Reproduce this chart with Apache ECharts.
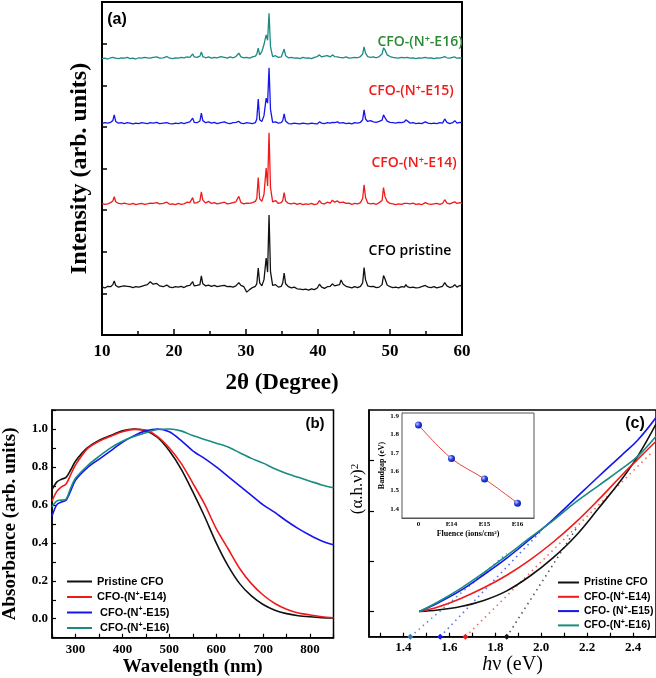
<!DOCTYPE html>
<html>
<head>
<meta charset="utf-8">
<script src="https://cdn.jsdelivr.net/npm/echarts@6/dist/echarts.min.js"></script>
<style>
  html, body { margin: 0; padding: 0; background: #fff; }
  #chart { width: 656px; height: 678px; }
</style>
</head>
<body>
<div id="chart"></div>
<script>
// ---- (a) XRD, 2theta grid shared by the four patterns ----
const twoTheta = [
  10, 10.4, 10.8, 11.2, 11.5, 11.7, 11.9, 12.3, 12.7, 13.1,
  13.5, 13.7, 13.9, 14.3, 14.7, 15.1, 15.5, 15.9, 16.3, 16.7,
  17.1, 17.6, 18.0, 18.5, 19.0, 19.4, 19.8, 20.2, 20.6, 21.0,
  21.4, 21.8, 22.2, 22.4, 22.6, 22.8, 23.2, 23.6, 23.8, 24.0,
  24.4, 24.8, 25.2, 25.6, 26.0, 26.5, 27.0, 27.4, 27.8, 28.2,
  28.6, 29.0, 29.3, 29.7, 30.1, 30.5, 30.9, 31.3, 31.5, 31.7,
  31.9, 32.2, 32.5, 32.8, 33.0, 33.2, 33.4, 33.7, 34.1, 34.5,
  34.9, 35.1, 35.3, 35.5, 35.9, 36.3, 36.7, 37.1, 37.5, 37.9,
  38.3, 38.7, 39.1, 39.5, 39.9, 40.2, 40.5, 40.9, 41.3, 41.7,
  42.0, 42.3, 42.7, 43.0, 43.2, 43.5, 43.9, 44.3, 44.7, 45.1,
  45.5, 45.9, 46.2, 46.4, 46.6, 46.9, 47.3, 47.7, 48.1, 48.5,
  48.9, 49.1, 49.3, 49.6, 50.0, 50.4, 50.8, 51.2, 51.6, 52.0,
  52.2, 52.4, 52.8, 53.2, 53.6, 54.0, 54.4, 54.9, 55.3, 55.7,
  56.1, 56.5, 56.9, 57.3, 57.6, 57.9, 58.3, 58.7, 59.0, 59.3,
  59.7, 60.0
]
// intensities above each pattern's own baseline
const xrdPristine = [
  0.02, 0.00, 0.04, 0.03, 0.08, 0.17, 0.06, 0.02, 0.04, 0.05,
  0.04, 0.07, 0.03, 0.01, 0.03, 0.02, 0.04, 0.06, 0.08, 0.15,
  0.09, 0.11, 0.05, 0.03, 0.07, 0.02, 0.01, 0.03, 0.02, 0.04,
  0.01, 0.05, 0.06, 0.04, 0.15, 0.05, 0.06, 0.08, 0.29, 0.10,
  0.05, 0.07, 0.04, 0.06, 0.03, 0.05, 0.06, 0.03, 0.04, 0.02,
  0.05, 0.13, 0.06, 0.03, -0.10, -0.04, 0.01, 0.04, 0.10, 0.48,
  0.12, 0.05, 0.20, 0.72, 0.38, 1.75, 0.40, 0.06, 0.08, 0.02,
  0.04, 0.12, 0.36, 0.10, 0.03, 0.00, 0.02, -0.02, -0.03, -0.04,
  -0.03, -0.05, -0.02, -0.04, 0.00, 0.09, 0.02, -0.01, 0.03, 0.04,
  0.10, 0.05, 0.07, 0.08, 0.19, 0.09, 0.04, 0.02, 0.00, 0.03,
  0.01, 0.04, 0.12, 0.49, 0.20, 0.05, 0.03, 0.04, 0.01, 0.02,
  0.08, 0.30, 0.22, 0.07, 0.03, 0.01, 0.02, 0.00, 0.03, 0.02,
  0.08, 0.03, 0.01, 0.02, 0.00, 0.01, 0.03, 0.06, 0.02, 0.01,
  0.03, 0.00, 0.02, 0.04, 0.13, 0.05, 0.01, 0.03, 0.08, 0.02,
  0.06, 0.04
]
const xrdE14 = [
  0.03, 0.01, 0.02, 0.05, 0.09, 0.19, 0.07, 0.03, 0.02, 0.04,
  0.02, 0.04, 0.01, 0.03, 0.00, 0.02, 0.03, 0.01, 0.02, 0.04,
  0.03, 0.05, 0.02, 0.03, 0.06, 0.01, 0.02, 0.00, 0.03, 0.01,
  0.02, 0.06, 0.05, 0.07, 0.17, 0.04, 0.05, 0.09, 0.31, 0.11,
  0.04, 0.08, 0.03, 0.05, 0.02, 0.04, 0.06, 0.02, 0.03, 0.05,
  0.07, 0.20, 0.05, 0.02, 0.04, 0.03, 0.05, 0.08, 0.15, 0.65,
  0.14, 0.08, 0.25, 0.88, 0.45, 1.73, 0.42, 0.07, 0.10, 0.03,
  0.05, 0.10, 0.29, 0.09, 0.03, 0.02, 0.04, 0.01, 0.03, 0.00,
  0.02, 0.01, 0.03, 0.00, 0.02, 0.10, 0.03, 0.02, 0.06, 0.04,
  0.11, 0.06, 0.09, 0.05, 0.08, 0.06, 0.03, 0.04, 0.01, 0.03,
  0.02, 0.05, 0.15, 0.48, 0.18, 0.04, 0.02, 0.03, 0.01, 0.05,
  0.10, 0.41, 0.20, 0.08, 0.03, 0.02, 0.00, 0.02, 0.01, 0.03,
  0.07, 0.03, 0.02, 0.04, 0.01, 0.02, 0.00, 0.05, 0.02, 0.01,
  0.02, 0.03, 0.01, 0.03, 0.12, 0.04, 0.02, 0.05, 0.07, 0.03,
  0.05, 0.04
]
const xrdE15 = [
  0.01, 0.03, 0.02, 0.04, 0.08, 0.22, 0.06, 0.02, 0.03, 0.01,
  0.03, 0.05, 0.02, 0.00, 0.02, 0.01, 0.03, 0.02, 0.01, 0.03,
  0.02, 0.04, 0.01, 0.02, 0.03, 0.01, 0.00, 0.02, 0.01, 0.03,
  0.01, 0.03, 0.05, 0.04, 0.14, 0.04, 0.03, 0.07, 0.26, 0.08,
  0.03, 0.05, 0.02, 0.04, 0.01, 0.03, 0.05, 0.02, 0.01, 0.03,
  0.04, 0.06, 0.02, 0.01, 0.03, 0.02, 0.01, 0.03, 0.12, 0.60,
  0.10, 0.06, 0.20, 0.62, 0.50, 1.35, 0.35, 0.04, 0.05, 0.02,
  0.03, 0.08, 0.24, 0.07, 0.01, 0.00, 0.02, 0.01, 0.00, 0.02,
  0.01, 0.00, 0.02, 0.01, 0.00, 0.05, 0.02, 0.01, 0.03, 0.02,
  0.04, 0.03, 0.05, 0.02, 0.05, 0.03, 0.01, 0.02, 0.00, 0.03,
  0.02, 0.04, 0.10, 0.34, 0.12, 0.06, 0.08, 0.05, 0.04, 0.06,
  0.09, 0.22, 0.15, 0.07, 0.04, 0.03, 0.02, 0.04, 0.03, 0.05,
  0.10, 0.06, 0.02, 0.03, 0.01, 0.02, 0.01, 0.05, 0.02, 0.01,
  0.02, 0.01, 0.03, 0.02, 0.12, 0.04, 0.01, 0.03, 0.08, 0.02,
  0.04, 0.03
]
const xrdE16 = [
  0.01, 0.02, 0.00, 0.03, 0.04, 0.06, 0.02, 0.01, 0.03, 0.02,
  0.04, 0.03, 0.01, 0.02, 0.00, 0.03, 0.02, 0.04, 0.03, 0.02,
  0.04, 0.05, 0.02, 0.03, 0.06, 0.02, 0.01, 0.03, 0.02, 0.04,
  0.03, 0.05, 0.04, 0.06, 0.12, 0.05, 0.04, 0.07, 0.17, 0.06,
  0.03, 0.05, 0.02, 0.04, 0.03, 0.06, 0.04, 0.02, 0.05, 0.03,
  0.06, 0.14, 0.05, 0.03, 0.04, 0.02, 0.05, 0.07, 0.12, 0.26,
  0.10, 0.18, 0.35, 0.58, 0.45, 1.10, 0.30, 0.06, 0.08, 0.04,
  0.05, 0.09, 0.24, 0.08, 0.03, 0.04, 0.02, 0.03, 0.01, 0.04,
  0.02, 0.03, 0.01, 0.04, 0.06, 0.10, 0.05, 0.07, 0.08, 0.05,
  0.10, 0.06, 0.05, 0.04, 0.06, 0.03, 0.05, 0.02, 0.03, 0.04,
  0.03, 0.06, 0.12, 0.29, 0.14, 0.06, 0.04, 0.05, 0.03, 0.06,
  0.12, 0.27, 0.22, 0.10, 0.06, 0.04, 0.03, 0.02, 0.04, 0.03,
  0.06, 0.04, 0.02, 0.03, 0.01, 0.03, 0.02, 0.04, 0.02, 0.03,
  0.01, 0.03, 0.02, 0.04, 0.06, 0.03, 0.02, 0.04, 0.05, 0.02,
  0.03, 0.02
]
// vertical stacking of the patterns (pristine, E14, E15, E16)
const xrdOffsets = [1.13, 3.13, 5.07, 6.63]

// ---- (b) normalised absorbance ----
const wavelength = [250, 260, 270, 280, 290, 300, 325, 350, 375, 400, 425, 450, 475, 500,
  525, 550, 575, 600, 625, 650, 675, 700, 725, 750, 775, 800, 825, 850]
const absPristine = [0.68, 0.72, 0.735, 0.745, 0.785, 0.83, 0.90, 0.94, 0.965, 0.99, 1.0, 0.99, 0.955, 0.885,
  0.79, 0.67, 0.54, 0.40, 0.28, 0.185, 0.12, 0.075, 0.045, 0.027, 0.016, 0.01, 0.006, 0.004]
const absE14 = [0.62, 0.67, 0.695, 0.71, 0.76, 0.81, 0.895, 0.935, 0.962, 0.985, 0.998, 0.995, 0.96, 0.90,
  0.82, 0.715, 0.605, 0.475, 0.37, 0.265, 0.185, 0.125, 0.08, 0.05, 0.03, 0.02, 0.01, 0.005]
const absE15 = [0.54, 0.60, 0.615, 0.625, 0.675, 0.73, 0.795, 0.84, 0.885, 0.93, 0.965, 0.99, 1.0, 0.985,
  0.94, 0.885, 0.845, 0.80, 0.75, 0.70, 0.65, 0.60, 0.56, 0.515, 0.475, 0.44, 0.41, 0.39]
const absE16 = [0.59, 0.62, 0.625, 0.63, 0.69, 0.74, 0.805, 0.855, 0.90, 0.935, 0.96, 0.98, 0.997, 1.0,
  0.99, 0.965, 0.945, 0.925, 0.905, 0.875, 0.845, 0.82, 0.79, 0.765, 0.745, 0.725, 0.705, 0.69]

// ---- (c) Tauc plot ----
const photonEnergy = [1.469, 1.55, 1.65, 1.75, 1.85, 1.95, 2.05, 2.15, 2.25, 2.35, 2.42, 2.5]
const taucPristine = [0, 0.03, 0.10, 0.22, 0.41, 0.70, 1.06, 1.50, 2.05, 2.62, 3.08, 3.72]
const taucE14 = [0, 0.09, 0.26, 0.47, 0.72, 1.02, 1.37, 1.77, 2.22, 2.70, 3.02, 3.38]
const taucE15 = [0, 0.17, 0.42, 0.73, 1.06, 1.43, 1.82, 2.25, 2.68, 3.10, 3.40, 3.85]
const taucE16 = [0, 0.19, 0.46, 0.77, 1.11, 1.46, 1.80, 2.17, 2.50, 2.83, 3.08, 3.48]
// linear fits: x-intercept (band gap) and upper end of the dotted line
const fitIntercepts = [1.85, 1.67, 1.56, 1.43]
const fitEnds = [[2.16, 1.7], [2.48, 3.15], [2.0, 1.6], [1.85, 1.15]]

// ---- (c) inset ----
const fluenceLabels = ['0', 'E14', 'E15', 'E16']
const bandgap = [1.85, 1.67, 1.56, 1.43]

const colors = ['#111111', '#f01a1a', '#1515f0', '#1b8a82']
const fitColors = ['#555555', '#f06a6a', '#5a6af0', '#5a92c4']
const legendB = ['Pristine CFO', 'CFO-(N{s|+}-E14)', ' CFO-(N{s|+}-E15)', ' CFO-(N{s|+}-E16)']
const legendC = ['Pristine CFO', 'CFO-(N{s|+}-E14)', 'CFO- (N{s|+}-E15)', 'CFO-(N{s|+}-E16)']

const serif = 'Liberation Serif'
const sans = 'Liberation Sans'
const pairs = (xs, ys, off) => xs.map((x, i) => [x, ys[i] + (off || 0)])

let chart = echarts.init(document.getElementById('chart'), null, { renderer: 'canvas' })

const bold = (size) => ({ fontFamily: serif, fontWeight: 'bold', fontSize: size, color: '#000' })
const blackLine = (w) => ({ show: true, onZero: false, lineStyle: { color: '#000', width: w } })
const supStyle = (size) => ({ fontFamily: sans, fontWeight: 'bold', fontSize: size, verticalAlign: 'top', color: '#000' })

let series = []
const xrdSets = [xrdPristine, xrdE14, xrdE15, xrdE16]
xrdSets.forEach((s, i) => {
  series.push({
    type: 'line', xAxisIndex: 0, yAxisIndex: 0, name: 'a' + i,
    data: pairs(twoTheta, s, xrdOffsets[i]),
    showSymbol: false, lineStyle: { color: colors[i], width: 1.3 }, itemStyle: { color: colors[i] }
  })
})
const absSets = [absPristine, absE14, absE15, absE16]
absSets.forEach((s, i) => {
  series.push({
    type: 'line', xAxisIndex: 1, yAxisIndex: 1, name: 'b' + i,
    data: pairs(wavelength, s), smooth: 0.3,
    showSymbol: false, lineStyle: { color: colors[i], width: 1.6 }, itemStyle: { color: colors[i] }
  })
})
const taucSets = [taucPristine, taucE14, taucE15, taucE16]
taucSets.forEach((s, i) => {
  series.push({
    type: 'line', xAxisIndex: 2, yAxisIndex: 2, name: 'c' + i,
    data: pairs(photonEnergy, s), smooth: 0.4,
    showSymbol: false, lineStyle: { color: colors[i], width: 1.6 }, itemStyle: { color: colors[i] }
  })
})
// dotted extrapolations with a marker at the intercept
fitIntercepts.forEach((x0, i) => {
  series.push({
    type: 'line', xAxisIndex: 2, yAxisIndex: 2, name: 'fit' + i,
    data: [
      { value: [x0, -0.5], symbol: 'diamond', symbolSize: 6 },
      { value: fitEnds[i], symbol: 'none' }
    ],
    symbol: 'none', clip: false,
    lineStyle: { color: fitColors[i], width: 1.6, type: [1.5, 4] },
    itemStyle: { color: i === 3 ? '#3a7ab4' : colors[i] },
    z: 1
  })
})
// inset
series.push({
  type: 'line', xAxisIndex: 3, yAxisIndex: 3, name: 'inset',
  data: bandgap.map((v, i) => [i, v]), smooth: 0.35,
  symbol: 'circle', symbolSize: 7,
  lineStyle: { color: '#e8453c', width: 1 },
  itemStyle: {
    color: new echarts.graphic.RadialGradient(0.35, 0.35, 0.75, [
      { offset: 0, color: '#c8d4ff' },
      { offset: 0.45, color: '#2a44e6' },
      { offset: 1, color: '#0a1590' }
    ])
  },
  z: 5
})

let option = {
  backgroundColor: '#fff',
  animation: false,
  grid: [
    { left: 102, top: 2, width: 360, height: 333, show: true, borderColor: '#000', borderWidth: 2 },
    { left: 51, top: 410, width: 282.5, height: 227.7, show: true, borderColor: '#000', borderWidth: 1.5 },
    { left: 369, top: 410, width: 290.6, height: 226.7, show: true, borderColor: '#000', borderWidth: 1.5 },
    { left: 402, top: 413, width: 132, height: 105, show: true, backgroundColor: '#fff', borderColor: '#555', borderWidth: 1, z: 3 }
  ],
  xAxis: [
    {
      gridIndex: 0, type: 'value', min: 10, max: 60, interval: 10,
      axisLine: blackLine(2),
      axisTick: { inside: true, length: 6, lineStyle: { color: '#000', width: 1.5 } },
      minorTick: { show: true, splitNumber: 2, length: 4, lineStyle: { color: '#000', width: 1.5 } },
      splitLine: { show: false },
      axisLabel: { margin: 8, ...bold(17) },
      name: '2θ (Degree)', nameLocation: 'middle', nameGap: 37, nameTextStyle: bold(23)
    },
    {
      gridIndex: 1, type: 'value', min: 250, max: 850, interval: 50,
      axisLine: blackLine(1.5),
      axisTick: { inside: true, length: 4, lineStyle: { color: '#000', width: 1.2 } },
      splitLine: { show: false },
      axisLabel: {
        margin: 5, ...bold(13),
        formatter: (v) => (v % 100 === 0 && v > 250 && v < 850) ? String(v) : ''
      },
      name: 'Wavelength (nm)', nameLocation: 'middle', nameGap: 20, nameTextStyle: bold(19)
    },
    {
      gridIndex: 2, type: 'value', min: 1.25, max: 2.5,
      axisLine: blackLine(1.5),
      axisTick: { inside: true, length: 4, lineStyle: { color: '#000', width: 1.2 },
        customValues: [1.3, 1.4, 1.5, 1.6, 1.7, 1.8, 1.9, 2.0, 2.1, 2.2, 2.3, 2.4] },
      splitLine: { show: false },
      axisLabel: { margin: 4, ...bold(13), customValues: [1.4, 1.6, 1.8, 2.0, 2.2, 2.4],
        formatter: (v) => v.toFixed(1) },
      name: '{i|h}ν (eV)', nameLocation: 'middle', nameGap: 8,
      nameTextStyle: { fontFamily: serif, fontSize: 20, color: '#000',
        rich: { i: { fontFamily: serif, fontSize: 20, fontStyle: 'italic', color: '#000' } } }
    },
    {
      gridIndex: 3, type: 'value', min: -0.5, max: 3.5,
      axisLine: { show: true, onZero: false, lineStyle: { color: '#555', width: 1 } },
      axisTick: { inside: true, length: 2, lineStyle: { color: '#555' }, customValues: [0, 1, 2, 3] },
      splitLine: { show: false },
      axisLabel: { margin: 3, ...bold(7), customValues: [0, 1, 2, 3],
        formatter: (v) => fluenceLabels[Math.round(v)] },
      name: 'Fluence (ions/cm{s|2})', nameLocation: 'middle', nameGap: 12,
      nameTextStyle: { ...bold(8), rich: { s: { fontFamily: serif, fontWeight: 'bold', fontSize: 5, verticalAlign: 'top', color: '#000' } } }
    }
  ],
  yAxis: [
    {
      gridIndex: 0, type: 'value', min: 0, max: 8, interval: 1,
      axisLine: blackLine(2),
      axisTick: { show: true, inside: true, length: 5, lineStyle: { color: '#000', width: 1.5 } },
      axisLabel: { show: false }, splitLine: { show: false },
      name: 'Intensity (arb. units)', nameLocation: 'middle', nameGap: 10, nameTextStyle: bold(24)
    },
    {
      gridIndex: 1, type: 'value', min: -0.1, max: 1.1, interval: 0.1,
      axisLine: blackLine(1.5),
      axisTick: { show: true, inside: true, length: 4, lineStyle: { color: '#000', width: 1.2 } },
      splitLine: { show: false },
      axisLabel: {
        margin: 4, ...bold(13),
        formatter: (v) => {
          const k = Math.round(v * 10)
          return (k >= 0 && k <= 10 && k % 2 === 0) ? (k / 10).toFixed(1) : ''
        }
      },
      name: 'Absorbance (arb. units)', nameLocation: 'middle', nameGap: 32, nameTextStyle: bold(19)
    },
    {
      gridIndex: 2, type: 'value', min: -0.5, max: 4,
      axisLine: blackLine(1.5),
      axisTick: { show: true, inside: true, length: 5, lineStyle: { color: '#000', width: 1.2 }, customValues: [0, 1, 2, 3] },
      axisLabel: { show: false }, splitLine: { show: false }
    },
    {
      gridIndex: 3, type: 'value', min: 1.35, max: 1.915,
      axisLine: { show: true, onZero: false, lineStyle: { color: '#555', width: 1 } },
      axisTick: { show: true, inside: true, length: 2, lineStyle: { color: '#555' }, customValues: [1.4, 1.5, 1.6, 1.7, 1.8, 1.9] },
      splitLine: { show: false },
      axisLabel: { margin: 3, ...bold(7), customValues: [1.4, 1.5, 1.6, 1.7, 1.8, 1.9], formatter: (v) => v.toFixed(1) },
      name: 'Bandgap (eV)', nameLocation: 'middle', nameGap: 15, nameTextStyle: bold(8)
    }
  ],
  legend: [
    {
      data: ['b0', 'b1', 'b2', 'b3'], left: 62, top: 570, orient: 'vertical',
      icon: 'rect', itemWidth: 25, itemHeight: 2, itemGap: 2.5, selectedMode: false,
      formatter: (n) => legendB[+n[1]],
      textStyle: { fontFamily: sans, fontWeight: 'bold', fontSize: 11, lineHeight: 13, color: '#000', rich: { s: supStyle(7) } }
    },
    {
      data: ['c0', 'c1', 'c2', 'c3'], left: 553, top: 571, orient: 'vertical',
      icon: 'rect', itemWidth: 21, itemHeight: 2, itemGap: 1.3, selectedMode: false,
      formatter: (n) => legendC[+n[1]],
      textStyle: { fontFamily: sans, fontWeight: 'bold', fontSize: 10.5, lineHeight: 13, color: '#000', rich: { s: supStyle(7) } }
    }
  ],
  graphic: [
    { type: 'text', x: 117, y: 20, style: { text: '(a)', font: 'bold 16px "Liberation Sans"', fill: '#000', textAlign: 'center', textVerticalAlign: 'middle' } },
    { type: 'text', x: 315, y: 424, style: { text: '(b)', font: 'bold 15px "Liberation Sans"', fill: '#000', textAlign: 'center', textVerticalAlign: 'middle' } },
    { type: 'text', x: 635, y: 424, style: { text: '(c)', font: 'bold 16px "Liberation Sans"', fill: '#000', textAlign: 'center', textVerticalAlign: 'middle' } },
    { type: 'text', x: 420, y: 42, style: { text: 'CFO-(N{s|+}-E16)', font: '600 14px "Open Sans"', fill: '#2b8a35', textAlign: 'center', textVerticalAlign: 'middle',
      rich: { s: { font: '600 9px "Open Sans"', fill: '#2b8a35', verticalAlign: 'top' } } } },
    { type: 'text', x: 411, y: 91, style: { text: 'CFO-(N{s|+}-E15)', font: '600 14px "Open Sans"', fill: '#f01a1a', textAlign: 'center', textVerticalAlign: 'middle',
      rich: { s: { font: '600 9px "Open Sans"', fill: '#f01a1a', verticalAlign: 'top' } } } },
    { type: 'text', x: 414, y: 163, style: { text: 'CFO-(N{s|+}-E14)', font: '600 14px "Open Sans"', fill: '#f01a1a', textAlign: 'center', textVerticalAlign: 'middle',
      rich: { s: { font: '600 9px "Open Sans"', fill: '#f01a1a', verticalAlign: 'top' } } } },
    { type: 'text', x: 410, y: 251, style: { text: 'CFO pristine', font: '600 14px "Open Sans"', fill: '#000', textAlign: 'center', textVerticalAlign: 'middle' } },
    { type: 'text', x: 358, y: 489, rotation: Math.PI / 2, style: { text: '(α.h.ν){s|2}', font: '17px "Liberation Serif"', fill: '#000', textAlign: 'center', textVerticalAlign: 'middle',
      rich: { s: { font: '11px "Liberation Serif"', fill: '#000', verticalAlign: 'top' } } } }
  ],
  series: series
}

chart.setOption(option)
</script>
</body>
</html>
